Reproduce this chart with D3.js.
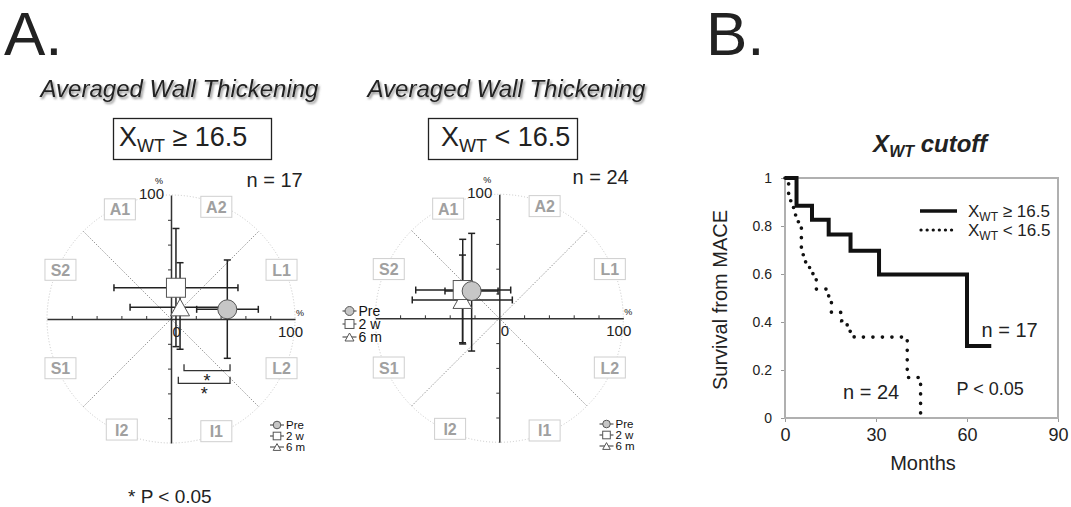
<!DOCTYPE html>
<html>
<head>
<meta charset="utf-8">
<script src="https://cdn.jsdelivr.net/npm/d3@7"></script>
<style>
body { margin: 0; background: #fff; }
svg { display: block; font-family: "Liberation Sans", Arial, Helvetica, sans-serif; }
</style>
</head>
<body>
<svg id="fig" width="1071" height="507"></svg>
<script>
// segments of the bull's-eye style plot, clockwise from the top (degrees)
var segNames = ["A1", "A2", "L1", "L2", "I1", "I2", "S1", "S2"];
var segAngles = [-25, 22, 66, 114, 158, 204, 246, 294];
var timePoints = ["Pre", "2 w", "6 m"];
var polarTicks = [-80, -60, -40, -20, 20, 40, 60, 80];

// XWT >= 16.5 (n = 17): mean vector (%) and error bar ends
var hiX = [45.4, 4.0, 7.3];
var hiY = [7.8, 25.2, 9.4];
var hiXLo = [20.7, -46, -33];
var hiXHi = [70.4, 54, 47];
var hiYLo = [-31.7, -22.3, -24.4];
var hiYHi = [47.6, 73, 45.4];

// XWT < 16.5 (n = 24)
var loX = [-22.3, -29.5, -29.7];
var loY = [22.0, 22.8, 14.8];
var loXLo = [-43.8, -67.4, -70.2];
var loXHi = [-1, 9.2, 10.5];
var loYLo = [-26.4, -20.7, -19.7];
var loYHi = [68.5, 63.7, 51];

// significance brackets, left plot (%)
var brFrom = [10.5, 5.9];
var brTo = [47.6, 47.6];
var brLevel = [-41.7, -51.9];

// Kaplan-Meier, survival from MACE
var kmHiT = [0, 3.8, 8.9, 14.4, 21.6, 31.0, 60.0, 68];
var kmHiS = [1, 0.884, 0.826, 0.765, 0.697, 0.598, 0.30, 0.30];
var kmLoT = [0, 1.2, 2.7, 3.3, 4.3, 5.4, 6.8, 8.1, 9.2, 10.3, 14.4, 15.3, 18.7, 20.5, 21.4, 22.8, 40.3, 44.7];
var kmLoS = [1, 0.905, 0.877, 0.846, 0.818, 0.68, 0.65, 0.625, 0.60, 0.537, 0.50, 0.44, 0.405, 0.387, 0.361, 0.337, 0.169, 0];
var kmYTicks = [0, 0.2, 0.4, 0.6, 0.8, 1];
var kmXTicks = [0, 30, 60, 90];

var svg = d3.select("#fig");
var ink = "#222";

var f = svg.append("defs").append("filter").attr("id", "shadow")
    .attr("x", "-10%").attr("y", "-40%").attr("width", "120%").attr("height", "180%");
f.append("feDropShadow").attr("dx", 1.5).attr("dy", 2).attr("stdDeviation", 1.2)
    .attr("flood-color", "#666").attr("flood-opacity", 0.75);

function xwt(t, subSize, sub, rest) {
    t.append("tspan").text("X");
    t.append("tspan").attr("font-size", subSize).attr("dy", subSize * 0.33).text(sub);
    t.append("tspan").attr("dy", -subSize * 0.33).text(rest);
}

function drawMarker(g, i, cx, cy, s) {
    if (i === 0) {
        g.append("circle").attr("cx", cx).attr("cy", cy).attr("r", 9.5 * s)
            .attr("fill", "#c6c6c6").attr("stroke", "#555");
    } else if (i === 1) {
        g.append("rect").attr("x", cx - 9.5 * s).attr("y", cy - 9.5 * s)
            .attr("width", 19 * s).attr("height", 19 * s)
            .attr("fill", "#fff").attr("stroke", "#555");
    } else {
        g.append("path")
            .attr("d", "M" + cx + "," + (cy - 8.5 * s) + "L" + (cx + 9.5 * s) + "," + (cy + 8.5 * s) +
                "L" + (cx - 9.5 * s) + "," + (cy + 8.5 * s) + "Z")
            .attr("fill", "#fff").attr("stroke", "#555");
    }
}

function drawLegend(x0, y0, gap, fs, s) {
    var g = svg.append("g");
    timePoints.forEach(function(t, i) {
        var yy = y0 + i * gap;
        g.append("line").attr("x1", x0 - 7).attr("x2", x0 + 7).attr("y1", yy).attr("y2", yy)
            .attr("stroke", "#333");
        drawMarker(g, i, x0, yy, s);
        g.append("text").attr("x", x0 + 9).attr("y", yy + fs * 0.36)
            .attr("font-size", fs).attr("fill", "#111").text(t);
    });
}

var R = 124;
function drawPolar(cx, cy, px, py, pxLo, pxHi, pyLo, pyHi) {
    var x = d3.scaleLinear().domain([-100, 100]).range([cx - R, cx + R]);
    var y = d3.scaleLinear().domain([-100, 100]).range([cy + R, cy - R]);
    var g = svg.append("g");

    g.append("circle").attr("cx", cx).attr("cy", cy).attr("r", R)
        .attr("fill", "none").attr("stroke", "#c8c8c8").attr("stroke-dasharray", "1 2");

    var d = 100 * Math.SQRT1_2;
    [[-d, d, d, -d], [-d, -d, d, d]].forEach(function(l) {
        g.append("line").attr("x1", x(l[0])).attr("y1", y(l[1])).attr("x2", x(l[2])).attr("y2", y(l[3]))
            .attr("stroke", "#999").attr("stroke-dasharray", "1.5 1.5");
    });

    segNames.forEach(function(n, i) {
        var a = segAngles[i] * Math.PI / 180;
        var lx = cx + 121 * Math.sin(a), ly = cy - 121 * Math.cos(a);
        g.append("rect").attr("x", lx - 15.5).attr("y", ly - 10.5).attr("width", 31).attr("height", 21)
            .attr("fill", "#fff").attr("stroke", "#cfcfcf");
        g.append("text").attr("x", lx).attr("y", ly + 6).attr("text-anchor", "middle")
            .attr("font-size", 16).attr("font-weight", "bold").attr("fill", "#a0a0a0").text(n);
    });

    var ax = g.append("g").attr("transform", "translate(0," + cy + ")")
        .call(d3.axisTop(x).tickValues(polarTicks).tickSize(3).tickSizeOuter(0).tickFormat(""));
    var ay = g.append("g").attr("transform", "translate(" + cx + ",0)")
        .call(d3.axisLeft(y).tickValues(polarTicks).tickSize(3).tickSizeOuter(0).tickFormat(""));
    [ax, ay].forEach(function(a) {
        a.attr("color", "#333");
        a.select(".domain").attr("stroke-width", 1.5);
    });

    g.append("text").attr("x", cx - 12).attr("y", cy - 135).attr("text-anchor", "middle")
        .attr("font-size", 9).attr("fill", "#111").text("%");
    g.append("text").attr("x", cx - 7).attr("y", cy - 120).attr("text-anchor", "end")
        .attr("font-size", 15).attr("fill", ink).text("100");
    g.append("text").attr("x", cx + 125).attr("y", cy - 3)
        .attr("font-size", 9).attr("fill", "#111").text("%");
    g.append("text").attr("x", cx + 132).attr("y", cy + 17.5).attr("text-anchor", "end")
        .attr("font-size", 15).attr("fill", ink).text("100");
    g.append("text").attr("x", cx + 1.5).attr("y", cy + 17.5)
        .attr("font-size", 15).attr("fill", ink).text("0");

    // error bars
    var eb = g.append("g").attr("stroke", ink).attr("stroke-width", 1.5);
    var c = 3.5;
    px.forEach(function(v, i) {
        var yy = y(py[i]), xx = x(v);
        eb.append("line").attr("x1", x(pxLo[i])).attr("x2", x(pxHi[i])).attr("y1", yy).attr("y2", yy);
        eb.append("line").attr("x1", x(pxLo[i])).attr("x2", x(pxLo[i])).attr("y1", yy - c).attr("y2", yy + c);
        eb.append("line").attr("x1", x(pxHi[i])).attr("x2", x(pxHi[i])).attr("y1", yy - c).attr("y2", yy + c);
        eb.append("line").attr("x1", xx).attr("x2", xx).attr("y1", y(pyLo[i])).attr("y2", y(pyHi[i]));
        eb.append("line").attr("x1", xx - c).attr("x2", xx + c).attr("y1", y(pyLo[i])).attr("y2", y(pyLo[i]));
        eb.append("line").attr("x1", xx - c).attr("x2", xx + c).attr("y1", y(pyHi[i])).attr("y2", y(pyHi[i]));
    });
    [2, 1, 0].forEach(function(i) { drawMarker(g, i, x(px[i]), y(py[i]), 1); });

    return { x: x, y: y, g: g };
}

// ---- panel A ----
svg.append("text").attr("x", 4).attr("y", 55).attr("font-size", 62).attr("fill", ink).text("A.");
svg.append("text").attr("x", 706).attr("y", 55).attr("font-size", 62).attr("fill", ink).text("B.");

[[179.5, 97], [506.5, 97]].forEach(function(p) {
    svg.append("text").attr("x", p[0]).attr("y", p[1]).attr("text-anchor", "middle")
        .attr("font-size", 24).attr("font-style", "italic").attr("fill", ink)
        .attr("filter", "url(#shadow)").text("Averaged Wall Thickening");
});

svg.append("rect").attr("x", 113.5).attr("y", 118.5).attr("width", 158).attr("height", 41)
    .attr("fill", "none").attr("stroke", ink).attr("stroke-width", 1.3);
xwt(svg.append("text").attr("x", 119).attr("y", 146).attr("font-size", 27).attr("fill", ink), 18, "WT", " \u2265 16.5");
svg.append("rect").attr("x", 428.5).attr("y", 118.5).attr("width", 149).attr("height", 41)
    .attr("fill", "none").attr("stroke", ink).attr("stroke-width", 1.3);
xwt(svg.append("text").attr("x", 441).attr("y", 146).attr("font-size", 27).attr("fill", ink), 18, "WT", " < 16.5");

svg.append("text").attr("x", 246.5).attr("y", 187).attr("font-size", 20).attr("fill", ink).text("n = 17");
svg.append("text").attr("x", 572.5).attr("y", 183.5).attr("font-size", 20).attr("fill", ink).text("n = 24");

var left = drawPolar(171, 319, hiX, hiY, hiXLo, hiXHi, hiYLo, hiYHi);
drawPolar(499.3, 318.3, loX, loY, loXLo, loXHi, loYLo, loYHi);

// significance brackets
brFrom.forEach(function(v, i) {
    var x1 = left.x(v), x2 = left.x(brTo[i]), yy = left.y(brLevel[i]);
    left.g.append("path").attr("d", "M" + x1 + "," + (yy - 6.5) + "V" + yy + "H" + x2 + "V" + (yy - 6.5))
        .attr("fill", "none").attr("stroke", "#333").attr("stroke-width", 1.3);
    left.g.append("text").attr("x", (x1 + x2) / 2).attr("y", yy + 16.5).attr("text-anchor", "middle")
        .attr("font-size", 18).attr("fill", ink).text("*");
});

drawLegend(277, 425, 11, 11.5, 0.4);
drawLegend(349.5, 311, 13, 14, 0.47);
drawLegend(606.5, 424, 11, 11.5, 0.4);

svg.append("text").attr("x", 128).attr("y", 503).attr("font-size", 19).attr("fill", ink).text("* P < 0.05");

// ---- panel B ----
var bx = d3.scaleLinear().domain([0, 90]).range([785, 1058]);
var by = d3.scaleLinear().domain([0, 1]).range([418, 178]);
var gb = svg.append("g");

gb.append("text").attr("x", 930).attr("y", 152).attr("text-anchor", "middle")
    .attr("font-size", 24).attr("font-weight", "bold").attr("font-style", "italic").attr("fill", ink)
    .call(function(t) { xwt(t, 16, "WT", " cutoff"); });

var yAx = gb.append("g").attr("transform", "translate(" + bx(0) + ",0)")
    .call(d3.axisLeft(by).tickValues(kmYTicks).tickSize(4).tickPadding(9).tickFormat(function(d) { return String(d); }));
var xAx = gb.append("g").attr("transform", "translate(0," + by(0) + ")")
    .call(d3.axisBottom(bx).tickValues(kmXTicks).tickSize(4).tickPadding(6));
yAx.selectAll("text").attr("font-size", 14).attr("fill", ink);
xAx.selectAll("text").attr("font-size", 18).attr("fill", ink);
[yAx, xAx].forEach(function(a) {
    a.select(".domain").remove();
    a.selectAll(".tick line").attr("stroke", "#999");
});

gb.append("rect").attr("x", bx(0)).attr("y", by(1)).attr("width", bx(90) - bx(0)).attr("height", by(0) - by(1))
    .attr("fill", "none").attr("stroke", "#b0b0b0").attr("stroke-width", 2);

var km = d3.line().curve(d3.curveStepAfter)
    .x(function(d) { return bx(d[0]); }).y(function(d) { return by(d[1]); });
gb.append("path").datum(kmHiT.map(function(t, i) { return [t, kmHiS[i]]; }))
    .attr("d", km).attr("fill", "none").attr("stroke", "#111").attr("stroke-width", 4);
gb.append("path").datum(kmLoT.map(function(t, i) { return [t, kmLoS[i]]; }))
    .attr("d", km).attr("fill", "none").attr("stroke", "#111").attr("stroke-width", 3.6)
    .attr("stroke-linecap", "round").attr("stroke-dasharray", "0.1 9.4");

// legend
gb.append("line").attr("x1", 920).attr("x2", 957).attr("y1", 211).attr("y2", 211)
    .attr("stroke", "#111").attr("stroke-width", 3.5);
gb.append("line").attr("x1", 921).attr("x2", 957).attr("y1", 230).attr("y2", 230)
    .attr("stroke", "#111").attr("stroke-width", 3.2).attr("stroke-linecap", "round").attr("stroke-dasharray", "0.1 6");
xwt(gb.append("text").attr("x", 968).attr("y", 217).attr("font-size", 17).attr("fill", ink), 12, "WT", " \u2265 16.5");
xwt(gb.append("text").attr("x", 968).attr("y", 236).attr("font-size", 17).attr("fill", ink), 12, "WT", " < 16.5");

gb.append("text").attr("transform", "translate(727,300) rotate(-90)").attr("text-anchor", "middle")
    .attr("font-size", 20).attr("fill", ink).text("Survival from MACE");
gb.append("text").attr("x", 923).attr("y", 470).attr("text-anchor", "middle")
    .attr("font-size", 20).attr("fill", ink).text("Months");

gb.append("text").attr("x", 981.5).attr("y", 337).attr("font-size", 20).attr("fill", ink).text("n = 17");
gb.append("text").attr("x", 843).attr("y", 398.5).attr("font-size", 20).attr("fill", ink).text("n = 24");
gb.append("text").attr("x", 956.5).attr("y", 395).attr("font-size", 18).attr("fill", ink).text("P < 0.05");
</script>
</body>
</html>
